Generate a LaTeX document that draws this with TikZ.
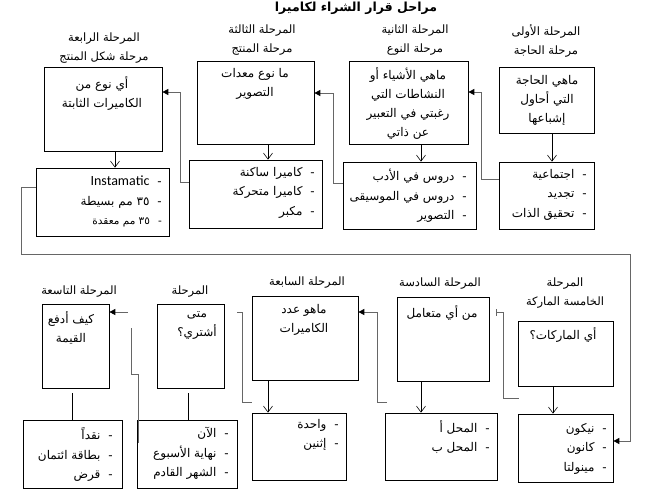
\documentclass[tikz,border=0pt]{standalone}
\usepackage{fontspec}
\usetikzlibrary{positioning,arrows.meta}
\TeXXeTstate=1
\newfontfamily\arabicfont[Script=Arabic]{DejaVu Sans}
\newfontfamily\latinfont{Carlito}
\newcommand{\artxt}[1]{{\arabicfont\beginR #1\endR}}
\newcommand{\litem}[1]{\artxt{-\hspace{8pt}#1}}
\tikzset{>=stealth}
\tikzset{
  qbox/.style={draw, line width=0.7pt, inner sep=0pt},
  boxtext/.style={inner sep=0pt, align=center, anchor=north, font=\fontsize{12}{19}\selectfont},
  listtext/.style={inner sep=0pt, align=right, anchor=north east, font=\fontsize{12}{19.5}\selectfont},
  stagetext/.style={inner sep=0pt, align=center, font=\fontsize{11.5}{19}\selectfont},
  down/.style={-{Straight Barb[length=6pt,width=9pt]}, line width=0.6pt},
  link/.style={draw=black!60, line width=0.8pt},
  into/.style={link, -{Triangle[length=6pt,width=6pt,color=black]}}
}
\begin{document}
\begin{tikzpicture}[x=1pt,y=-1pt]
\useasboundingbox (0,0) rectangle (672,501);
% title
\node[inner sep=0pt, font=\fontsize{12.5}{15}\selectfont\bfseries] (title) at (356,8) {\artxt{مراحل قرار الشراء لكاميرا}};
% stage labels, top row
\node[stagetext] (s1) at (546,40.5) {\artxt{المرحلة الأولى}\\\artxt{مرحلة الحاجة}};
\node[stagetext] (s2) at (415,40.5) {\artxt{المرحلة الثانية}\\\artxt{مرحلة النوع}};
\node[stagetext] (s3) at (262,40.5) {\artxt{المرحلة الثالثة}\\\artxt{مرحلة المنتج}};
\node[stagetext] (s4) at (104,48.5) {\artxt{المرحلة الرابعة}\\\artxt{مرحلة شكل المنتج}};
% question boxes, top row
\node[qbox, minimum width=95pt, minimum height=66pt] (q1) at (546.5,100) {};
\node[qbox, minimum width=119pt, minimum height=83pt] (q2) at (408.5,102.5) {};
\node[qbox, minimum width=117pt, minimum height=83pt] (q3) at (255.5,102.5) {};
\node[qbox, minimum width=118pt, minimum height=84pt] (q4) at (103,109) {};
\node[boxtext] (q1t) at (547,75) {\artxt{ماهي الحاجة}\\\artxt{التي أحاول}\\\artxt{إشباعها}};
\node[boxtext] (q2t) at (408,67) {\artxt{ماهي الأشياء أو}\\\artxt{النشاطات التي}\\\artxt{رغبتي في التعبير}\\\artxt{عن ذاتي}};
\node[boxtext] (q3t) at (255,68) {\artxt{ما نوع معدات}\\\artxt{التصوير}};
\node[boxtext] (q4t) at (102,76) {\artxt{أي نوع من}\\\artxt{الكاميرات الثابتة}};
% list boxes, top row
\node[qbox, minimum width=95pt, minimum height=67pt] (l1) at (546.5,195.5) {};
\node[qbox, minimum width=133pt, minimum height=67pt] (l2) at (409.5,195.5) {};
\node[qbox, minimum width=133pt, minimum height=68pt] (l3) at (255.5,194) {};
\node[qbox, minimum width=133pt, minimum height=68pt] (l4) at (102.5,202) {};
\node[listtext] (l1t) at (587,169) {\litem{اجتماعية}\\\litem{تجديد}\\\litem{تحقيق الذات}};
\node[listtext] (l2t) at (467,169) {\litem{دروس في الأدب}\\\litem{دروس في الموسيقى}\\\litem{التصوير}};
\node[listtext] (l3t) at (315,167) {\litem{كاميرا ساكنة}\\\litem{كاميرا متحركة}\\\litem{مكبر}};
\node[listtext] (l4t) at (162,176) {\artxt{-\hspace{8pt}{\latinfont\fontsize{14}{16}\selectfont Instamatic}}\\\litem{\beginL ٣٥\endL{} مم بسيطة}\\{\fontsize{10.5}{12}\selectfont\litem{\beginL ٣٥\endL{} مم معقدة}}};
% stage labels, bottom row
\node[stagetext] (s5) at (565,293.5) {\artxt{المرحلة}\\\artxt{الخامسة الماركة}};
\node[stagetext] (s6) at (440,284) {\artxt{المرحلة السادسة}};
\node[stagetext] (s7) at (307,283) {\artxt{المرحلة السابعة}};
\node[stagetext] (s8) at (190,292) {\artxt{المرحلة}};
\node[stagetext] (s9) at (79,292) {\artxt{المرحلة التاسعة}};
% question boxes, bottom row
\node[qbox, minimum width=95pt, minimum height=65pt] (q5) at (565.5,353.5) {};
\node[qbox, minimum width=92pt, minimum height=84pt] (q6) at (443,339) {};
\node[qbox, minimum width=106pt, minimum height=84pt] (q7) at (305,338) {};
\node[qbox, minimum width=67pt, minimum height=84pt] (q8) at (190.5,346) {};
\node[qbox, minimum width=67pt, minimum height=84pt] (q9) at (75.5,346) {};
\node[boxtext] (q5t) at (563,327) {\artxt{أي الماركات؟}};
\node[boxtext] (q6t) at (442,305) {\artxt{من أي متعامل}};
\node[boxtext] (q7t) at (304,304) {\artxt{ماهو عدد}\\\artxt{الكاميرات}};
\node[boxtext] (q8t) at (197,311) {\artxt{متى}\\\artxt{أشتري؟}};
\node[boxtext] (q9t) at (71,311) {\artxt{كيف أدفع}\\\artxt{القيمة}};
% list boxes, bottom row
\node[qbox, minimum width=95pt, minimum height=68pt] (l5) at (565.5,448) {};
\node[qbox, minimum width=112pt, minimum height=67pt] (l6) at (441,446.5) {};
\node[qbox, minimum width=94pt, minimum height=67pt] (l7) at (299,446.5) {};
\node[qbox, minimum width=100pt, minimum height=68pt] (l8) at (187,454) {};
\node[qbox, minimum width=99pt, minimum height=68pt] (l9) at (72.5,454) {};
\node[listtext] (l5t) at (607,423) {\litem{نيكون}\\\litem{كانون}\\\litem{مينولتا}};
\node[listtext] (l6t) at (490,420) {\litem{المحل أ}\\\litem{المحل ب}};
\node[listtext] (l7t) at (339,419) {\litem{واحدة}\\\litem{إثنين}};
\node[listtext] (l8t) at (229,427) {\litem{الآن}\\\litem{نهاية الأسبوع}\\\litem{الشهر القادم}};
\node[listtext] (l9t) at (113,427) {\litem{نقداً}\\\litem{بطاقة ائتمان}\\\litem{قرض}};
% arrows down
\draw[down] (q1.south -| 552,0) -- (l1.north -| 552,0);
\draw[down] (q2.south -| 421,0) -- (l2.north -| 421,0);
\draw[down] (q3.south -| 268,0) -- (l3.north -| 268,0);
\draw[down] (q4.south -| 115,0) -- (l4.north -| 115,0);
\draw[down] (q5.south -| 553,0) -- (l5.north -| 553,0);
\draw[down] (q6.south -| 421,0) -- (l6.north -| 421,0);
\draw[down] (q7.south -| 268,0) -- (l7.north -| 268,0);
\draw[line width=0.6pt] (188,393) -- (l8.north -| 188,0);
\draw[line width=0.6pt] (72,393) -- (l9.north -| 72,0);
% links between stages
\draw[into] (l1.west |- 0,179) -| (481,92) -- (q2.east |- 0,92);
\draw[into] (l2.west |- 0,183) -| (333,93) -- (q3.east |- 0,93);
\draw[into] (l3.west |- 0,182) -| (180,92) -- (q4.east |- 0,92);
\draw[into] (l4.west |- 0,187) -| (21,254) -| (630,441) -- (l5.east |- 0,441);
\draw[link, {Bar[width=7pt]}-] (496,312) -| (503,398) -- (519,398);
\draw[into] (387,402) -| (377,312) -- (q7.east |- 0,312);
\draw[link] (237,312) -| (242,402) -- (252,402);
\draw[into] (128,312) -- (q9.east |- 0,312);
\draw[link] (131,328) |- (138,374) -- (138,443);
\end{tikzpicture}
\end{document}
